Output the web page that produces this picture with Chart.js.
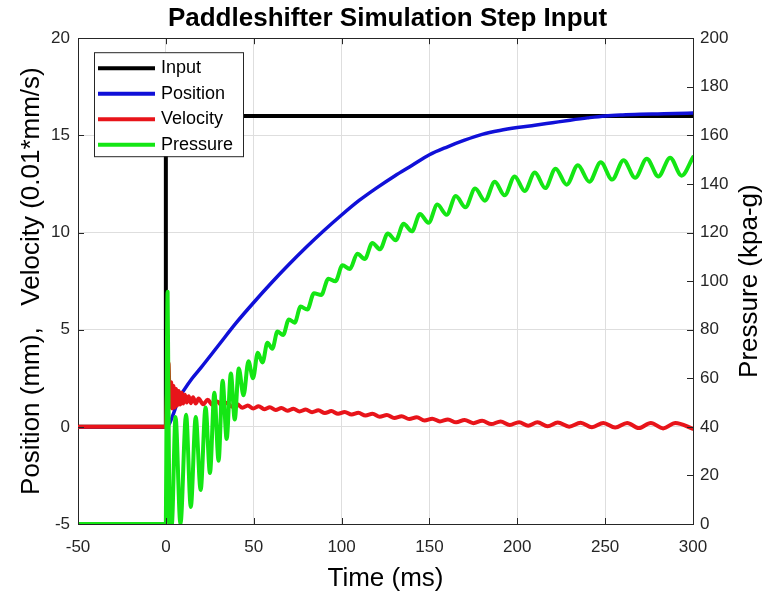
<!DOCTYPE html>
<html>
<head>
<meta charset="utf-8">
<script src="https://cdn.jsdelivr.net/npm/chart.js"></script>
<style>
  body { margin: 0; background: #fff; }
  canvas { display: block; }
</style>
</head>
<body>
<canvas id="Chart" width="775" height="596"></canvas>
<script>
// 读图得到的数据 (time in ms)
var inputT = [-50, 0, 0, 300];
var inputV = [0, 0, 16, 16];

var posT = [-50, 0, 2, 4, 6, 8, 10, 15, 20, 30, 40, 50, 60, 70, 80, 90, 100, 110, 120, 130, 140,
  150, 160, 170, 180, 190, 200, 210, 220, 230, 240, 250, 260, 270, 280, 290, 300];
var posV = [0, 0, 0.15, 0.6, 1.1, 1.55, 1.85, 2.5, 3.05, 4.2, 5.35, 6.4, 7.4, 8.35, 9.25, 10.1, 10.9, 11.65, 12.3, 12.9, 13.45,
  14.0, 14.4, 14.75, 15.05, 15.25, 15.4, 15.52, 15.65, 15.78, 15.9, 16.0, 16.05, 16.08, 16.1, 16.12, 16.15];

var velT = [-50, 0, 0.6, 1.5, 2.3, 3.0, 3.7, 4.4, 5.1, 5.8, 6.5, 7.3, 8.1, 9.0, 9.9, 10.9, 11.9, 13.0, 14.2, 15.5, 17.0,
  18.6, 21.2, 23.8, 26.5, 29.2, 32.0, 34.8, 37.7, 40.6, 43.6, 46.6, 49.7, 52.8, 56.0, 59.2, 62.5, 65.8, 69.2, 72.6, 76.1,
  79.6, 83.2, 86.8, 90.5, 94.2, 98.0, 101.8, 105.7, 109.6, 113.6, 117.6, 121.7, 125.8, 130.0, 134.2, 138.5, 142.8, 147.2,
  151.6, 156.0, 160.5, 165.2, 170.0, 175.0, 180.0, 185.2, 190.5, 195.7, 201.0, 206.2, 211.5, 217.2, 223.0, 229.5, 236.0,
  242.5, 249.0, 255.7, 262.5, 269.2, 276.0, 283.0, 290.0, 300.0];
var velV = [0, 0, 1.6, 3.3, 1.0, 2.3, 0.95, 2.1, 1.0, 1.95, 1.1, 1.85, 1.15, 1.75, 1.2, 1.65, 1.25, 1.58, 1.22, 1.52, 1.2,
  1.46, 1.16, 1.39, 1.13, 1.31, 1.08, 1.24, 1.03, 1.16, 0.98, 1.1, 0.94, 1.06, 0.91, 1.01, 0.87, 0.97, 0.83, 0.93, 0.79,
  0.89, 0.75, 0.85, 0.71, 0.81, 0.67, 0.77, 0.63, 0.72, 0.58, 0.67, 0.52, 0.61, 0.46, 0.55, 0.4, 0.49, 0.33,
  0.42, 0.28, 0.38, 0.23, 0.35, 0.19, 0.31, 0.14, 0.28, 0.1, 0.24, 0.06, 0.23, 0.03, 0.22, 0.01, 0.21,
  -0.02, 0.2, -0.04, 0.2, -0.06, 0.2, -0.08, 0.2, -0.1];

var presT = [-50, 0, 0.4, 1.0, 1.7, 2.4, 3.4, 5.5, 8.3, 11.5, 14.2, 17.0, 19.8, 22.6, 25.1, 27.6, 30.0, 32.3, 34.6, 37.0, 39.2,
  41.5, 44.2, 47.0, 49.6, 52.3, 55.0, 57.8, 60.6, 63.5, 66.7, 70.0, 73.3, 76.7, 80.5, 84.3, 88.4, 92.5, 96.5, 100.5, 104.7,
  109.0, 113.2, 117.5, 121.9, 126.3, 130.8, 135.3, 140.0, 144.6, 149.5, 154.5, 159.8, 165.0, 170.5, 176.0, 181.6, 187.2,
  192.8, 198.5, 204.2, 210.0, 215.9, 221.8, 228.1, 234.5, 241.0, 247.5, 254.0, 260.5, 267.1, 273.7, 280.3, 287.0, 293.5, 300.0];
var presV = [0, 0, 50, 95.6, 30, 0, 0, 44, 0, 45, 7, 44, 14, 48, 21, 54, 26, 59, 35, 62, 43,
  64, 53, 67, 60, 70.5, 66.5, 74.6, 72.2, 79.2, 77.8, 84.2, 82.9, 89.5, 88.3, 95, 94.3, 101, 99.9, 106.5, 105,
  111.3, 109.1, 115.7, 113.1, 119.6, 116.8, 123.6, 120.5, 127.6, 124, 131.5, 127.3, 135, 130.4, 138.1, 133.1, 140.9,
  135.3, 143.1, 137.1, 144.7, 138.3, 146.3, 139.7, 147.7, 140.9, 148.9, 141.8, 149.8, 142.5, 150.4, 143.1, 150.8, 143.4, 151];

function pts(t, v) {
  return t.map(function(x, i) { return {x: x, y: v[i]}; });
}

Chart.defaults.font.family = '"Liberation Sans", Arial, sans-serif';
Chart.defaults.color = '#262626';

var tickFont = {size: 17};
var gridColor = '#dedede';
var axisColor = '#262626';
var labelFont = '26px "Liberation Sans", Arial, sans-serif';

// 图内图例（MATLAB风格的方框）、向内刻度线、右轴标题（自下而上）
const matlabBits = {
  id: 'matlabBits',
  afterDatasetsDraw(chart) {
    const ctx = chart.ctx;
    const a = chart.chartArea;
    const x0 = a.left + 16, y0 = a.top + 14, w = 149, h = 104;
    ctx.save();
    ctx.fillStyle = '#fff';
    ctx.fillRect(x0, y0, w, h);
    ctx.strokeStyle = axisColor;
    ctx.lineWidth = 1;
    ctx.strokeRect(x0 + 0.5, y0 + 0.5, w, h);
    ctx.font = '18px "Liberation Sans", Arial, sans-serif';
    ctx.textBaseline = 'middle';
    chart.data.datasets.forEach(function(ds, i) {
      const y = y0 + 16 + i * 25.5;
      ctx.strokeStyle = ds.borderColor;
      ctx.lineWidth = 4;
      ctx.beginPath();
      ctx.moveTo(x0 + 4, y);
      ctx.lineTo(x0 + 61, y);
      ctx.stroke();
      ctx.fillStyle = '#000';
      ctx.fillText(ds.label, x0 + 67, y);
    });
    ctx.restore();
  },
  afterDraw(chart) {
    const ctx = chart.ctx;
    const a = chart.chartArea;
    const sx = chart.scales.x, sy = chart.scales.y, sy1 = chart.scales.y1;
    const tl = 6;
    ctx.save();
    ctx.strokeStyle = axisColor;
    ctx.lineWidth = 1;
    ctx.beginPath();
    sx.ticks.forEach(function(t) {
      const px = Math.round(sx.getPixelForValue(t.value)) + 0.5;
      ctx.moveTo(px, a.bottom); ctx.lineTo(px, a.bottom - tl);
      ctx.moveTo(px, a.top); ctx.lineTo(px, a.top + tl);
    });
    sy.ticks.forEach(function(t) {
      const py = Math.round(sy.getPixelForValue(t.value)) + 0.5;
      ctx.moveTo(a.left, py); ctx.lineTo(a.left + tl, py);
    });
    sy1.ticks.forEach(function(t) {
      const py = Math.round(sy1.getPixelForValue(t.value)) + 0.5;
      ctx.moveTo(a.right, py); ctx.lineTo(a.right - tl, py);
    });
    ctx.stroke();

    ctx.translate(chart.width - 25, (a.top + a.bottom) / 2);
    ctx.rotate(-Math.PI / 2);
    ctx.font = labelFont;
    ctx.fillStyle = '#000';
    ctx.textAlign = 'center';
    ctx.textBaseline = 'middle';
    ctx.fillText('Pressure (kpa-g)', 0, 0);
    ctx.restore();
  }
};

const ctx = document.getElementById('Chart');
const chart = new Chart(ctx, {
  type: 'line',
  data: {
    datasets: [{
        label: 'Input',
        data: pts(inputT, inputV),
        borderColor: '#000000',
        borderWidth: 4,
        yAxisID: 'y',
        order: 3
      },
      {
        label: 'Position',
        data: pts(posT, posV),
        borderColor: '#1010d8',
        borderWidth: 3.5,
        cubicInterpolationMode: 'monotone',
        yAxisID: 'y',
        order: 2
      },
      {
        label: 'Velocity',
        data: pts(velT, velV),
        borderColor: '#e8141a',
        borderWidth: 4,
        cubicInterpolationMode: 'monotone',
        yAxisID: 'y',
        order: 1
      },
      {
        label: 'Pressure',
        data: pts(presT, presV),
        borderColor: '#14e614',
        borderWidth: 4,
        cubicInterpolationMode: 'monotone',
        yAxisID: 'y1',
        order: 0
      }
    ]
  },
  options: {
    responsive: false,
    animation: false,
    elements: {
      point: {radius: 0},
      line: {tension: 0, fill: false, borderJoinStyle: 'round', borderCapStyle: 'round'}
    },
    layout: {padding: 0},
    plugins: {
      legend: {display: false},
      tooltip: {enabled: false},
      title: {
        display: true,
        text: 'Paddleshifter Simulation Step Input',
        color: '#000',
        font: {size: 26, weight: 'bold'},
        padding: {top: 3, bottom: 2}
      }
    },
    scales: {
      x: {
        type: 'linear',
        position: 'bottom',
        min: -50,
        max: 300,
        ticks: {stepSize: 50, font: tickFont, padding: 13, maxRotation: 0},
        grid: {color: gridColor, drawTicks: false},
        border: {color: axisColor},
        title: {display: true, text: 'Time (ms)', color: '#000', font: {size: 26}, padding: {top: 0, bottom: 2}},
        afterFit: function(s) { s.height = 72; }
      },
      xTop: {
        type: 'linear',
        position: 'top',
        min: -50,
        max: 300,
        ticks: {display: false},
        grid: {display: false, drawTicks: false},
        border: {color: axisColor},
        afterFit: function(s) { s.height = 2; }
      },
      y: {
        position: 'left',
        min: -5,
        max: 20,
        ticks: {stepSize: 5, font: tickFont, padding: 8},
        grid: {color: gridColor, drawTicks: false},
        border: {color: axisColor},
        title: {display: true, text: 'Position (mm),   Velocity (0.01*mm/s)', color: '#000', font: {size: 26}, padding: {top: 16, bottom: 0}},
        afterFit: function(s) { s.width = 78; }
      },
      y1: {
        position: 'right',
        min: 0,
        max: 200,
        ticks: {stepSize: 20, font: tickFont, padding: 7},
        grid: {display: false, drawTicks: false},
        border: {color: axisColor},
        afterFit: function(s) { s.width = 82; }
      }
    }
  },
  plugins: [matlabBits]
});
</script>
</body>
</html>
